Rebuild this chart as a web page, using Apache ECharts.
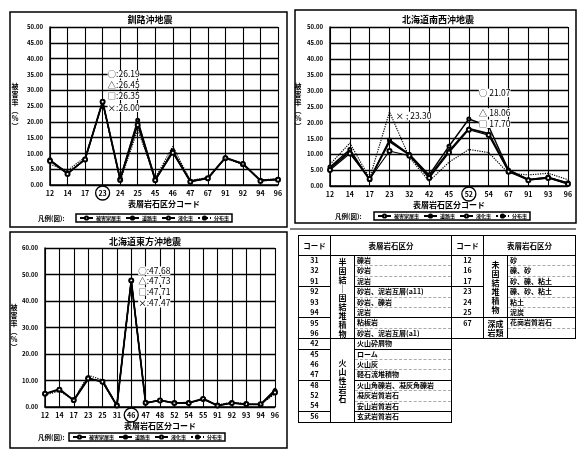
<!DOCTYPE html>
<html>
<head>
<meta charset="utf-8">
<script src="https://cdn.jsdelivr.net/npm/echarts@6/dist/echarts.min.js"></script>
<style>
  html, body { margin: 0; padding: 0; background: #fff; }
  #c { position: absolute; left: 0; top: 0; width: 578px; height: 451px; }
  #tbl { position: absolute; left: 298px; top: 235px; border-collapse: collapse; table-layout: fixed;
         font-family: "Noto Sans CJK JP", sans-serif; font-size: 7px; font-weight: bold; color: #000; }
  #tbl td { padding: 0 2px; height: 9.4px; line-height: 9.4px; white-space: nowrap; overflow: hidden; }
  #tbl td.hd { height: 19px; text-align: center; border: 1.5px solid #000; font-size: 7.5px; }
  #tbl td.code { text-align: center; border-left: 1.5px solid #000; border-right: 1.5px solid #000; }
  #tbl td.grp { text-align: center; border: 1.5px solid #000; font-size: 8px; line-height: 9px; white-space: pre; vertical-align: middle; }
  #tbl td.txt { border-right: 1.5px solid #000; border-bottom: 1px dashed #aaa; }
  #tbl td.blank { border: none; }
</style>
</head>
<body>
<div id="c"></div>
<table id="tbl"></table>
<script>
// ---- 釧路沖地震 ----
const kushiroCodes = ['12','14','17','23','24','25','45','46','47','67','91','92','94','96'];
const kushiroS1 = [8.0, 3.8, 8.0, 26.19, 2.0, 20.5, 1.8, 10.8, 1.2, 2.0, 8.6, 6.8, 1.5, 1.8];
const kushiroS2 = [7.8, 3.6, 8.2, 26.45, 1.8, 19.8, 1.6, 10.5, 1.2, 2.2, 8.7, 6.7, 1.4, 1.8];
const kushiroS3 = [7.6, 3.5, 8.1, 26.35, 1.6, 19.0, 1.5, 10.2, 1.0, 2.1, 8.5, 6.6, 1.3, 1.7];
const kushiroS4 = [6.5, 4.6, 8.8, 26.00, 1.2, 17.5, 2.2, 12.2, 1.4, 2.4, 8.4, 6.5, 1.6, 2.0];

// ---- 北海道南西沖地震 ----
const nanseiCodes = ['12','14','17','23','32','42','45','52','54','67','91','93','96'];
const nanseiS1 = [6.0, 11.5, 2.0, 14.5, 10.0, 3.5, 12.5, 21.07, 18.8, 5.0, 2.0, 2.8, 1.0];
const nanseiS2 = [5.5, 10.8, 2.0, 14.0, 9.8, 3.0, 11.0, 18.06, 16.5, 5.0, 2.0, 2.6, 0.8];
const nanseiS3 = [5.0, 10.2, 2.2, 11.0, 9.5, 2.5, 10.5, 17.70, 16.0, 4.5, 1.8, 2.5, 0.6];
const nanseiS4 = [6.8, 13.5, 2.5, 23.30, 9.0, 1.5, 7.5, 11.5, 10.5, 4.0, 3.5, 4.0, 2.0];

// ---- 北海道東方沖地震 ----
const tohoCodes = ['12','14','17','23','25','31','46','47','48','52','54','55','91','92','93','94','96'];
const tohoS1 = [5.0, 6.5, 2.5, 11.0, 9.5, 0.5, 47.68, 1.5, 2.5, 1.5, 1.5, 3.0, 0.5, 1.5, 1.0, 1.0, 6.0];
const tohoS2 = [5.0, 6.8, 2.5, 10.5, 9.8, 0.5, 47.73, 1.5, 2.6, 1.5, 1.6, 3.2, 0.5, 1.6, 1.0, 1.0, 6.5];
const tohoS3 = [5.0, 6.5, 2.6, 10.8, 9.5, 0.6, 47.71, 1.6, 2.5, 1.5, 1.5, 3.0, 0.6, 1.5, 1.1, 1.0, 5.5];
const tohoS4 = [4.5, 6.0, 2.8, 12.0, 10.2, 0.8, 47.47, 1.8, 2.4, 1.6, 1.7, 2.8, 0.8, 1.8, 1.2, 0.9, 5.0];

const seriesNames = ['被害家屋率', '道路率', '液化率', '分布率'];
const markGlyphs = ['○', '△', '□', '×'];
const yName = '被害率（%）';

const FONT = '"Noto Sans CJK JP", "Noto Sans CJK SC", sans-serif';

const panels = [
  { title: '釧路沖地震', codes: kushiroCodes, series: [kushiroS1, kushiroS2, kushiroS3, kushiroS4],
    max: 50, interval: 5, grid: { left: 50, top: 27, width: 228, height: 158 },
    box: [10, 12, 277, 215], titleX: 150, titleY: 20, yNameX: 15,
    legend: { left: 76, top: 214 }, legendLabel: [38, 219],
    focus: '23', notes: [[0, 5, -28], [1, 5, -17], [2, 5, -6], [3, 5, 5]], noteSep: ':' },
  { title: '北海道南西沖地震', codes: nanseiCodes, series: [nanseiS1, nanseiS2, nanseiS3, nanseiS4],
    max: 50, interval: 5, grid: { left: 330, top: 27, width: 238, height: 159 },
    box: [295, 10, 281, 213], titleX: 438, titleY: 20, yNameX: 298,
    legend: { left: 374, top: 212 }, legendLabel: [335, 217],
    focus: '52', notes: [[0, 10, -26], [1, 10, -16], [2, 10, -6]], noteSep: ' ',
    extraNote: { s: 3, code: '23', dx: 6, dy: 4 } },
  { title: '北海道東方沖地震', codes: tohoCodes, series: [tohoS1, tohoS2, tohoS3, tohoS4],
    max: 60, interval: 10, grid: { left: 45, top: 248, width: 230, height: 159 },
    box: [10, 232, 277, 216], titleX: 145, titleY: 242, yNameX: 14,
    legend: { left: 69, top: 433 }, legendLabel: [38, 438],
    focus: '46', notes: [[0, 7, -10], [1, 7, 0], [2, 7, 11], [3, 7, 22]], noteSep: ':' }
];

const lineStyles = [
  { width: 1.4, type: 'solid' },
  { width: 1.8, type: 'solid' },
  { width: 1.2, type: 'solid' },
  { width: 1.2, type: 'dotted' }
];
const symbols = ['emptyCircle', 'circle', 'emptyCircle', 'none'];
const symbolSizes = [3, 3, 4, 0];

const chart = echarts.init(document.getElementById('c'), null, { renderer: 'canvas' });

const option = {
  animation: false,
  backgroundColor: '#fff',
  textStyle: { fontFamily: FONT },
  grid: [], xAxis: [], yAxis: [], series: [], legend: []
};

panels.forEach((p, i) => {
  option.grid.push(Object.assign({ containLabel: false }, p.grid));
  option.xAxis.push({
    type: 'category', gridIndex: i, data: p.codes, boundaryGap: false,
    name: '表層岩石区分コード', nameLocation: 'middle', nameGap: 15,
    nameTextStyle: { fontSize: 8, fontWeight: 'bold', color: '#000', fontFamily: FONT },
    axisLine: { lineStyle: { color: '#000', width: 1.5 } },
    axisTick: { show: false },
    axisLabel: { color: '#000', fontSize: 7, fontWeight: 'bold', margin: 5, interval: 0, fontFamily: FONT },
    splitLine: { show: true, lineStyle: { color: '#000', width: 1.1 } }
  });
  option.yAxis.push({
    type: 'value', gridIndex: i, min: 0, max: p.max, interval: p.interval,
    axisLine: { show: true, lineStyle: { color: '#000', width: 1.5 } },
    axisTick: { show: false },
    axisLabel: { color: '#000', fontSize: 6, fontWeight: 'bold', margin: 7,
                 formatter: v => v.toFixed(2), fontFamily: FONT },
    splitLine: { show: true, lineStyle: { color: '#000', width: 1.4 } }
  });
  p.series.forEach((vals, s) => {
    option.series.push({
      type: 'line', name: seriesNames[s], xAxisIndex: i, yAxisIndex: i, data: vals,
      symbol: symbols[s], symbolSize: symbolSizes[s], showSymbol: s !== 3,
      lineStyle: Object.assign({ color: '#000' }, lineStyles[s]),
      itemStyle: { color: '#000', borderColor: '#000', borderWidth: 1 },
      z: 5 + s
    });
  });
  option.legend.push({
    data: seriesNames, left: p.legend.left, top: p.legend.top, orient: 'horizontal',
    itemWidth: 13, itemHeight: 4, itemGap: 4, padding: [0, 3],
    borderColor: '#000', borderWidth: 1.5, selectedMode: false,
    textStyle: { fontSize: 5, fontWeight: 'bold', color: '#000', fontFamily: FONT, lineHeight: 8, padding: [0, 0, 0, -2] }
  });
});

chart.setOption(option);

// titles, annotations, highlight rings and panel frames, placed through the axes' own scales
const vertical = s => s.replace('（', '︵').replace('）', '︶').split('').join('\n');
const graphic = [];
panels.forEach((p, i) => {
  graphic.push({ type: 'rect', shape: { x: p.box[0], y: p.box[1], width: p.box[2], height: p.box[3] },
                 style: { fill: null, stroke: '#000', lineWidth: 1.5 }, silent: true, z: 1 });
  graphic.push({ type: 'text', x: p.titleX, y: p.titleY,
                 style: { text: p.title, fontSize: 9, fontWeight: 'bold', fill: '#000', fontFamily: FONT,
                          align: 'center', verticalAlign: 'middle' }, z: 20 });
  graphic.push({ type: 'text', x: p.yNameX, y: p.grid.top + p.grid.height / 2,
                 style: { text: vertical(yName), fontSize: 7, fontWeight: 'bold', fill: '#000', fontFamily: FONT,
                          align: 'center', verticalAlign: 'middle', lineHeight: 8 }, z: 20 });
  graphic.push({ type: 'text', x: p.legendLabel[0], y: p.legendLabel[1],
                 style: { text: '凡例(図):', fontSize: 6.5, fontWeight: 'bold', fill: '#000',
                          fontFamily: FONT, verticalAlign: 'middle' }, z: 20 });
  const fx = chart.convertToPixel({ xAxisIndex: i }, p.focus);
  const y0 = chart.convertToPixel({ yAxisIndex: i }, 0);
  graphic.push({ type: 'circle', shape: { cx: fx, cy: y0 + 8, r: 7 },
                 style: { fill: null, stroke: '#000', lineWidth: 1.3 }, z: 20 });
  const fIdx = p.codes.indexOf(p.focus);
  p.notes.forEach(([s, dx, dy]) => {
    const v = p.series[s][fIdx];
    const pt = chart.convertToPixel({ gridIndex: i }, [p.focus, v]);
    graphic.push({ type: 'text', x: pt[0] + dx, y: pt[1] + dy,
                   style: { text: markGlyphs[s] + p.noteSep + v.toFixed(2), fontSize: 8.5, fill: '#000',
                            fontFamily: FONT, verticalAlign: 'middle', backgroundColor: '#fff' }, z: 30 });
  });
  if (p.extraNote) {
    const e = p.extraNote;
    const v = p.series[e.s][p.codes.indexOf(e.code)];
    const pt = chart.convertToPixel({ gridIndex: i }, [e.code, v]);
    graphic.push({ type: 'text', x: pt[0] + e.dx, y: pt[1] + e.dy,
                   style: { text: markGlyphs[e.s] + ' ; ' + v.toFixed(2), fontSize: 8.5, fill: '#000',
                            fontFamily: FONT, verticalAlign: 'middle', backgroundColor: '#fff' }, z: 30 });
  }
});
// rule separating the upper panels from the table
graphic.push({ type: 'line', shape: { x1: 290, y1: 229, x2: 576, y2: 229 },
               style: { stroke: '#000', lineWidth: 1.2 }, z: 1 });
chart.setOption({ graphic: graphic });

// ---- 表層岩石区分 legend table ----
const leftGroups = [
  { label: '半\n固\n結\n｜\n固\n結\n堆\n積\n物', blocks: [
    [['31', '礫岩'], ['32', '砂岩'], ['91', '泥岩']],
    [['92', '砂岩、泥岩互層(a11)'], ['93', '砂岩、礫岩'], ['94', '泥岩']],
    [['95', '粘板岩'], ['96', '砂岩、泥岩互層(a1)']]
  ]},
  { label: '火\n山\n性\n岩\n石', blocks: [
    [['42', '火山砕屑物']],
    [['45', 'ローム'], ['46', '火山灰'], ['47', '軽石流堆積物']],
    [['48', '火山角礫岩、凝灰角礫岩'], ['52', '凝灰岩質岩石'], ['54', '安山岩質岩石']],
    [['56', '玄武岩質岩石']]
  ]}
];
const rightGroups = [
  { label: '未\n固\n結\n堆\n積\n物', blocks: [
    [['12', '砂'], ['16', '礫、砂'], ['17', '砂、礫、粘土']],
    [['23', '礫、砂、粘土'], ['24', '粘土'], ['25', '泥炭']]
  ]},
  { label: '深成\n岩類', blocks: [[['67', '花崗岩質岩石'], ['', '']]] }
];

function flatten(groups) {
  const rows = [];
  groups.forEach(g => {
    const n = g.blocks.reduce((a, b) => a + b.length, 0);
    let first = true;
    g.blocks.forEach(b => b.forEach((r, k) => {
      rows.push({ code: r[0], text: r[1], top: k === 0, last: k === b.length - 1,
                  grp: first ? g.label : null, span: n });
      first = false;
    }));
  });
  return rows;
}
const L = flatten(leftGroups), R = flatten(rightGroups);
const edge = r => (r.top ? 'border-top:1.5px solid #000;' : '') + (r.last ? 'border-bottom:1.5px solid #000;' : '');
let html = '<colgroup><col style="width:32px"><col style="width:24px"><col style="width:97px">' +
           '<col style="width:32px"><col style="width:24px"><col style="width:68px"></colgroup>';
html += '<tr><td class="hd">コード</td><td class="hd" colspan="2">表層岩石区分</td>' +
        '<td class="hd">コード</td><td class="hd" colspan="2">表層岩石区分</td></tr>';
L.forEach((l, i) => {
  const r = R[i];
  let cells = '<td class="code" style="' + edge(l) + '">' + l.code + '</td>';
  if (l.grp) cells += '<td class="grp" rowspan="' + l.span + '">' + l.grp + '</td>';
  cells += '<td class="txt" style="' + edge(l) + '">' + l.text + '</td>';
  if (r) {
    cells += '<td class="code" style="' + edge(r) + '">' + r.code + '</td>';
    if (r.grp) cells += '<td class="grp" rowspan="' + r.span + '">' + r.grp + '</td>';
    cells += '<td class="txt" style="' + edge(r) + '">' + r.text + '</td>';
  } else {
    cells += '<td class="blank" colspan="3"></td>';
  }
  html += '<tr>' + cells + '</tr>';
});
document.getElementById('tbl').innerHTML = html;
</script>
</body>
</html>
